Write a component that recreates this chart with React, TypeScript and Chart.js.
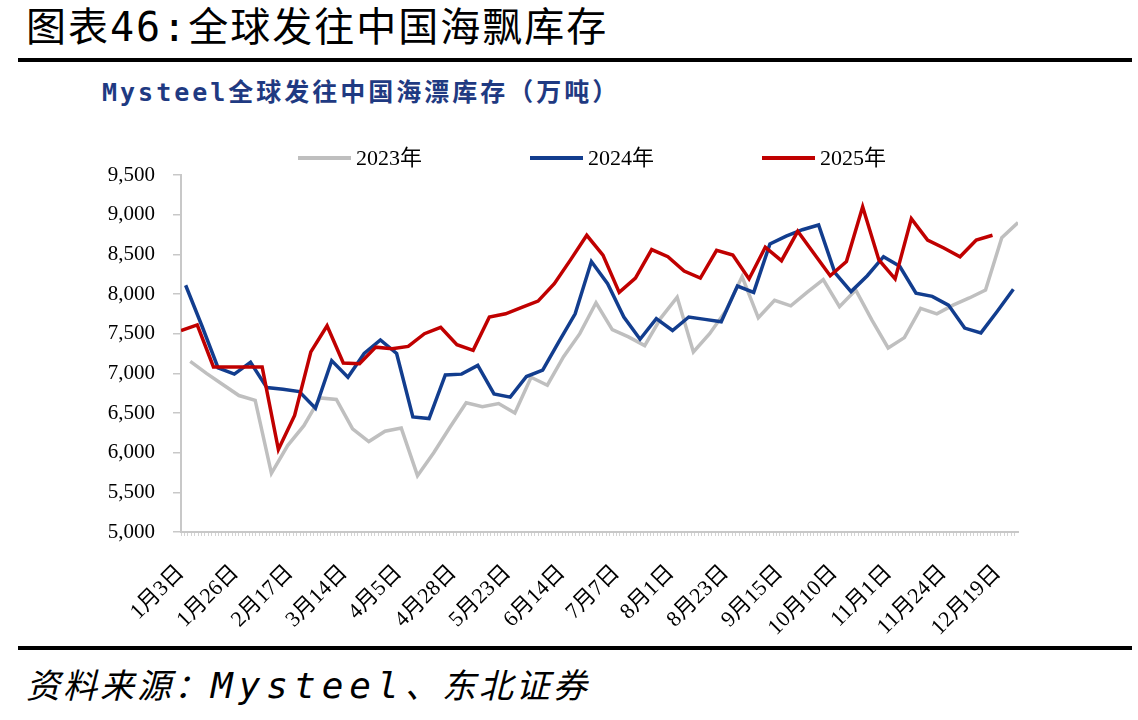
import React, { useEffect, useRef } from 'react';
import { Chart, registerables } from 'chart.js';

Chart.register(...registerables);

// Category labels shown along the date axis (one every 16 minor ticks)
const xTickLabels = [
  '1月3日', '1月26日', '2月17日', '3月14日', '4月5日', '4月28日', '5月23日', '6月14日',
  '7月7日', '8月1日', '8月23日', '9月15日', '10月10日', '11月1日', '11月24日', '12月19日',
];

const seriesNames = ['2023年', '2024年', '2025年'];

// Weekly floating inventory, 10k tonnes
const values2023 = [
  7150, 7000, 6860, 6720, 6660, 5740, 6090, 6340, 6690, 6670, 6300, 6140, 6270,
  6310, 5710, 6000, 6320, 6630, 6580, 6620, 6500, 6950, 6850, 7210, 7500, 7890,
  7550, 7460, 7350, 7700, 7960, 7270, 7500, 7790, 8220, 7700, 7920, 7850, 8020,
  8180, 7840, 8050, 7670, 7320, 7450, 7820, 7750, 7860, 7950, 8050, 8710, 8900,
];
const values2024 = [
  8110, 7600, 7070, 6990, 7140, 6820, 6800, 6770, 6560, 7160, 6950, 7250, 7420,
  7250, 6450, 6430, 6980, 6990, 7100, 6740, 6700, 6960, 7040, 7400, 7750, 8410,
  8130, 7710, 7430, 7690, 7540, 7710, 7680, 7650, 8100, 8020, 8630, 8730, 8810,
  8870, 8270, 8030, 8230, 8470, 8350, 8010, 7970, 7860, 7570, 7510, 7780, 8060,
];
const values2025 = [
  7540, 7610, 7080, 7080, 7080, 7080, 6040, 6470, 7270, 7600, 7130, 7120, 7330,
  7310, 7340, 7500, 7580, 7360, 7290, 7710, 7750, 7830, 7910, 8130, 8430, 8740,
  8490, 8020, 8200, 8560, 8470, 8290, 8200, 8550, 8490, 8190, 8590, 8420, 8790,
  8510, 8230, 8410, 9100, 8430, 8190, 8950, 8680, 8580, 8470, 8680, 8740,
];

// Day on the axis of each year's first weekly reading
const firstReadingDay = [4, 2, 0];
const yTicks = [5000, 5500, 6000, 6500, 7000, 7500, 8000, 8500, 9000, 9500];

const lineColors = ['#BFBFBF', '#123D8E', '#C00000'];

const AXIS_DAYS = 361;
const LABEL_EVERY_DAYS = 23.48;
const MINOR_PER_LABEL = 16;

const serif = '"Liberation Serif", "Times New Roman", "Noto Sans CJK SC", serif';

const yearLegend = {
  id: 'yearLegend',
  afterDraw(chart: any, _args: any, opts: any) {
    const { ctx } = chart;
    ctx.save();
    opts.order.forEach((dsIndex: number, k: number) => {
      const ds = chart.data.datasets[dsIndex];
      const x = opts.xs[k];
      const y = opts.y;
      ctx.strokeStyle = ds.borderColor;
      ctx.lineWidth = 4;
      ctx.beginPath();
      ctx.moveTo(x, y);
      ctx.lineTo(x + opts.sample, y);
      ctx.stroke();
      ctx.fillStyle = '#000';
      ctx.font = opts.font;
      ctx.textBaseline = 'middle';
      ctx.textAlign = 'left';
      ctx.fillText(ds.label, x + opts.sample + opts.gap, y + 1);
    });
    ctx.restore();
  },
};

function InventoryChart() {
  const canvasRef = useRef<HTMLCanvasElement | null>(null);

  useEffect(() => {
    const canvas = canvasRef.current;
    if (!canvas) return;
    const series = [values2023, values2024, values2025];
    const chart = new Chart(canvas, {
      type: 'line',
      data: {
        datasets: series.map((vals, s) => ({
          label: seriesNames[s],
          data: vals.map((v, i) => ({ x: firstReadingDay[s] + 7 * i, y: v })),
          borderColor: lineColors[s],
          backgroundColor: lineColors[s],
          borderWidth: 3.5,
          pointRadius: 0,
          tension: 0,
          order: 2 - s,
        })),
      },
      options: {
        animation: false,
        responsive: false,
        maintainAspectRatio: false,
        events: [],
        layout: { padding: { left: 0, right: 120, top: 45, bottom: 0 } },
        plugins: {
          legend: { display: false },
          title: { display: false },
          tooltip: { enabled: false },
          yearLegend: {
            order: [0, 1, 2],
            xs: [298, 530, 762],
            y: 28,
            sample: 53,
            gap: 5,
            font: `22px ${serif}`,
          },
        } as any,
        scales: {
          x: {
            type: 'linear',
            min: 0,
            max: AXIS_DAYS,
            afterBuildTicks: (scale: any) => {
              const step = LABEL_EVERY_DAYS / MINOR_PER_LABEL;
              const ticks = [];
              for (let j = 0; j * step <= AXIS_DAYS; j++) ticks.push({ value: j * step });
              scale.ticks = ticks;
            },
            afterFit: (scale: any) => {
              scale.height = 108;
            },
            ticks: {
              autoSkip: false,
              minRotation: 45,
              maxRotation: 45,
              padding: 24,
              color: '#000',
              font: { family: serif, size: 22 },
              callback: (_v: any, index: number) =>
                index % MINOR_PER_LABEL === 0 ? xTickLabels[index / MINOR_PER_LABEL] ?? '' : '',
            },
            grid: {
              drawOnChartArea: false,
              drawTicks: true,
              tickLength: 4,
              color: '#D4D4D4',
              lineWidth: 1,
            },
            border: { display: true, color: '#C8C8C8', width: 2 },
          },
          y: {
            type: 'linear',
            min: 5000,
            max: 9500,
            afterBuildTicks: (scale: any) => {
              scale.ticks = yTicks.map((v) => ({ value: v }));
            },
            afterFit: (scale: any) => {
              scale.width = 181;
            },
            ticks: {
              padding: 18,
              color: '#000',
              font: { family: serif, size: 21 },
              callback: (v: any) => Number(v).toLocaleString('en-US'),
            },
            grid: {
              drawOnChartArea: false,
              drawTicks: true,
              tickLength: 8,
              color: '#C8C8C8',
              lineWidth: 1.5,
            },
            border: { display: true, color: '#C8C8C8', width: 2 },
          },
        },
      },
      plugins: [yearLegend],
    });
    return () => chart.destroy();
  }, []);

  return <canvas ref={canvasRef} width={1138} height={510} style={{ display: 'block' }} />;
}

export default function App() {
  const monoCjk = '"DejaVu Sans Mono", "Noto Sans CJK SC", monospace';
  return (
    <div style={{ position: 'relative', width: 1138, height: 720, background: '#fff', overflow: 'hidden' }}>
      <style>{'body{margin:0}'}</style>
      <div
        style={{
          position: 'absolute', left: 26, top: 2, fontSize: 40, lineHeight: '50px',
          fontFamily: monoCjk, letterSpacing: 2, color: '#000', whiteSpace: 'nowrap',
        }}
      >
        图表46:全球发往中国海飘库存
      </div>
      <div style={{ position: 'absolute', left: 18, top: 58, width: 1114, height: 4, background: '#000' }} />
      <div
        style={{
          position: 'absolute', left: 102, top: 77, fontSize: 25, lineHeight: '32px', fontWeight: 700,
          fontFamily: monoCjk, letterSpacing: 3, color: '#1F3A82', whiteSpace: 'nowrap',
        }}
      >
        Mysteel全球发往中国海漂库存（万吨）
      </div>
      <div style={{ position: 'absolute', left: 0, top: 130, width: 1138, height: 510 }}>
        <InventoryChart />
      </div>
      <div style={{ position: 'absolute', left: 18, top: 646, width: 1114, height: 4, background: '#000' }} />
      <div
        style={{
          position: 'absolute', left: 26, top: 664, fontSize: 34, lineHeight: '44px', fontStyle: 'italic',
          fontFamily: monoCjk, letterSpacing: 3, color: '#000', whiteSpace: 'nowrap',
        }}
      >
        <span>资料来源：</span>
        <span style={{ fontSize: 36, letterSpacing: 6 }}>Mysteel</span>
        <span>、东北证券</span>
      </div>
    </div>
  );
}
